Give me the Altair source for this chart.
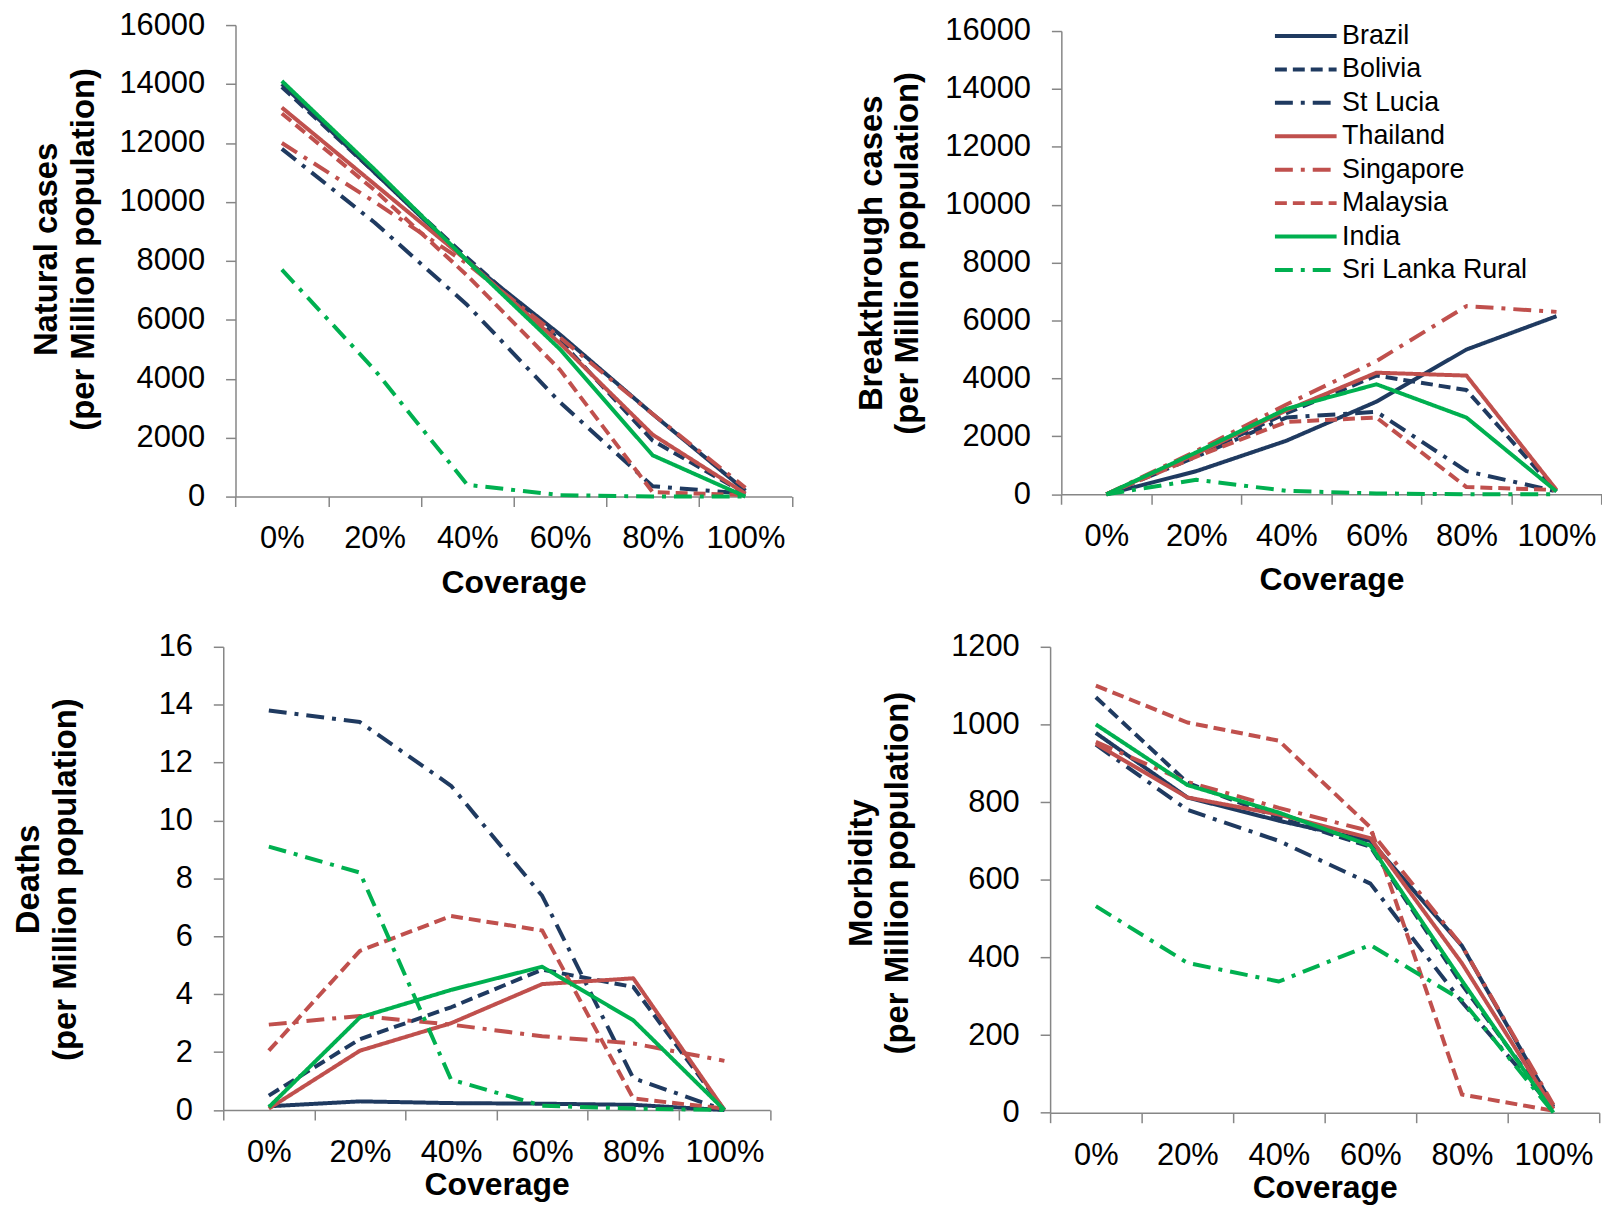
import altair as alt
import pandas as pd

coverage = ["0%", "20%", "40%", "60%", "80%", "100%"]
countries = ["Brazil", "Bolivia", "St Lucia", "Thailand", "Singapore",
             "Malaysia", "India", "Sri Lanka Rural"]
colors = ["#1F3A60", "#1F3A60", "#1F3A60", "#C0504D", "#C0504D", "#C0504D",
          "#00B050", "#00B050"]
dashes = [[1, 0], [12, 6], [18, 8, 4, 8], [1, 0], [18, 8, 4, 8], [12, 6],
          [1, 0], [18, 8, 4, 8]]

natural_cases = {
    "Brazil":          [14000, 11000, 8000, 5500, 2800, 200],
    "Bolivia":         [13900, 11000, 8100, 5300, 1900, 100],
    "St Lucia":        [11800, 9300, 6500, 3200, 350, 100],
    "Thailand":        [13200, 10600, 8000, 5200, 2100, 100],
    "Singapore":       [12000, 10000, 7900, 5400, 2800, 300],
    "Malaysia":        [13000, 10400, 7500, 4300, 150, 50],
    "India":           [14100, 11100, 8000, 5000, 1400, 0],
    "Sri Lanka Rural": [7700, 4300, 400, 50, 0, 0],
}
breakthrough_cases = {
    "Brazil":          [0, 800, 1850, 3200, 5000, 6150],
    "Bolivia":         [0, 1350, 2800, 4100, 3600, 100],
    "St Lucia":        [0, 1300, 2650, 2850, 800, 100],
    "Thailand":        [0, 1400, 2900, 4200, 4100, 150],
    "Singapore":       [0, 1500, 3100, 4600, 6500, 6300],
    "Malaysia":        [0, 1300, 2500, 2650, 250, 150],
    "India":           [0, 1450, 2950, 3800, 2650, 100],
    "Sri Lanka Rural": [0, 500, 120, 30, 0, 0],
}
deaths = {
    "Brazil":          [0.13, 0.3, 0.24, 0.22, 0.18, 0.0],
    "Bolivia":         [0.5, 2.45, 3.55, 4.85, 4.25, 0.0],
    "St Lucia":        [13.8, 13.4, 11.2, 7.4, 1.1, 0.0],
    "Thailand":        [0.05, 2.05, 3.0, 4.35, 4.55, 0.0],
    "Singapore":       [2.95, 3.25, 2.95, 2.55, 2.3, 1.7],
    "Malaysia":        [2.05, 5.5, 6.7, 6.2, 0.4, 0.05],
    "India":           [0.1, 3.2, 4.15, 4.95, 3.1, 0.0],
    "Sri Lanka Rural": [9.1, 8.2, 1.05, 0.15, 0.05, 0.0],
}
morbidity = {
    "Brazil":          [978, 812, 752, 700, 430, 15],
    "Bolivia":         [1070, 850, 760, 685, 330, 10],
    "St Lucia":        [948, 780, 700, 590, 285, 10],
    "Thailand":        [950, 812, 768, 707, 385, 10],
    "Singapore":       [955, 852, 785, 725, 430, 20],
    "Malaysia":        [1100, 1005, 958, 735, 47, 5],
    "India":           [1000, 844, 773, 688, 340, 0],
    "Sri Lanka Rural": [532, 386, 338, 432, 290, 0],
}

FONT = "Liberation Sans"
GRAY = "#868686"
NCAT = len(coverage)


def to_frame(series):
    rows = []
    for c in countries:
        for i, v in enumerate(series[c]):
            rows.append({"country": c, "coverage": coverage[i], "xpos": i + 0.5, "value": v})
    return pd.DataFrame(rows)


label_expr = "[" + ",".join("'" + c + "'" for c in coverage) + "][datum.value] || ''"


def panel(series, ymax, ystep, ytitle, x0, cat, ytop, ybottom, title_pad, title_y,
          xtitle_pad, xlabel_pad, legend=None):
    width = x0 + cat * NCAT
    x_axis = alt.Axis(values=list(range(NCAT + 1)), labelExpr=label_expr,
                      labelOffset={"condition": {"test": "datum.value < %d" % NCAT,
                                                 "value": cat / 2}, "value": 0},
                      labelFlush=False, labelOverlap=False,
                      labelBound=False, tickSize=10, labelPadding=xlabel_pad,
                      title="Coverage", titlePadding=xtitle_pad, grid=False)
    y_axis = alt.Axis(values=list(range(0, ymax + 1, ystep)), format="d", title=ytitle,
                      titlePadding=title_pad, titleY=title_y, titleFontSize=33,
                      titleLineHeight=37, offset=-x0, tickSize=10, labelPadding=21,
                      grid=False, labelFlush=False)
    color_scale = alt.Scale(domain=countries, range=colors)
    dash_scale = alt.Scale(domain=countries, range=dashes)
    col = alt.Color("country:N", scale=color_scale, legend=legend)
    dsh = alt.StrokeDash("country:N", scale=dash_scale, legend=legend)
    return alt.Chart(to_frame(series)).mark_line(
        strokeWidth=4, strokeJoin="round", strokeCap="butt"
    ).encode(
        x=alt.X("xpos:Q", scale=alt.Scale(domain=[0, NCAT], range=[x0, width], nice=False),
                axis=x_axis),
        y=alt.Y("value:Q", scale=alt.Scale(domain=[0, ymax], range=[ybottom, ytop], nice=False),
                axis=y_axis),
        color=col,
        strokeDash=dsh,
        detail="country:N",
    ).properties(width=width, height=ybottom)


leg = alt.Legend(title=None, orient="none", legendX=243.5, legendY=-2.5,
                 symbolType="M-3,0H3", symbolSize=427, symbolStrokeWidth=4,
                 rowPadding=5.6, labelFontSize=27, labelOffset=23, labelFont=FONT,
                 labelColor="black", padding=0, labelLimit=400)

p1 = panel(natural_cases, 16000, 2000, ["Natural cases", "(per Million population)"],
           12.3, 93.2, 0, 474, 19, 225, 14, 17)
p2 = panel(breakthrough_cases, 16000, 2000, ["Breakthrough cases", "(per Million population)"],
           11.3, 90.5, 6, 471.7, 20, 229, 14, 17, legend=leg)
p3 = panel(deaths, 16, 2, ["Deaths", "(per Million population)"],
           0, 91.6, 0, 465.7, 76.5, 233.5, 2, 18)
p4 = panel(morbidity, 1200, 200, ["Morbidity", "(per Million population)"],
           0, 92, 0, 468.4, 36, 227, 2, 18)

chart = alt.concat(
    p1, p2, p3, p4, columns=2, bounds="flush",
    spacing=alt.RowColnumber(row=151, column=259.2),
).resolve_scale(
    x="independent", y="independent", color="independent", strokeDash="independent"
).resolve_axis(
    x="independent", y="independent"
).resolve_legend(
    color="independent", strokeDash="independent"
).properties(
    padding={"left": 4.4, "top": -2, "right": 0, "bottom": 0},
    background="white",
).configure_view(
    stroke=None
).configure_axis(
    labelFont=FONT, labelFontSize=31, labelColor="black",
    titleFont=FONT, titleFontSize=32, titleFontWeight="bold", titleColor="black",
    titleLineHeight=35, domainColor=GRAY, tickColor=GRAY, domainWidth=1.5, tickWidth=1.5,
)

chart.save("out.html", embed_options={"renderer": "svg", "actions": False})
